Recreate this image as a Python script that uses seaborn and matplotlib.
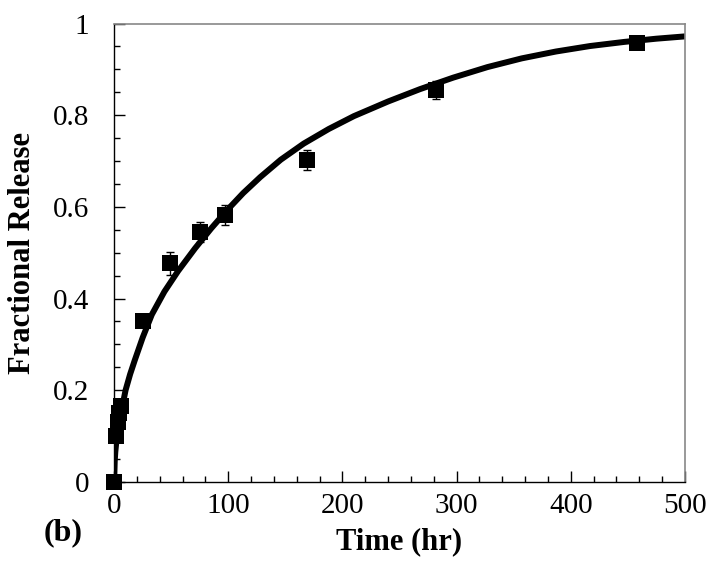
import matplotlib
matplotlib.use("Agg")
import matplotlib.pyplot as plt
import seaborn as sns
import pandas as pd
from matplotlib.ticker import MultipleLocator

time_hr = [0, 1.5, 3, 4.5, 6, 25, 48.6, 75, 97, 169, 282, 458]
frac_release = [0.0, 0.10, 0.13, 0.15, 0.165, 0.351, 0.477, 0.545, 0.583, 0.703, 0.855, 0.957]
frac_err = [0.005, 0.01, 0.01, 0.01, 0.01, 0.012, 0.025, 0.022, 0.022, 0.022, 0.02, 0.01]

# Model curve
curve_t = [0, 0.5, 1, 2, 3, 4.5, 6, 8, 10, 14, 18, 25, 33, 44, 56, 71, 85, 99, 113, 128, 146, 166, 188, 210, 240, 268, 297, 327, 357, 387, 417, 447, 475, 500]
curve_f = [0, 0.045, 0.065, 0.09, 0.11, 0.13, 0.15, 0.175, 0.2, 0.235, 0.265, 0.315, 0.365, 0.415, 0.46, 0.51, 0.553, 0.593, 0.630, 0.665, 0.703, 0.738, 0.770, 0.798, 0.830, 0.857, 0.882, 0.905, 0.924, 0.939, 0.951, 0.960, 0.967, 0.972]

y_ticks = [0, 0.2, 0.4, 0.6, 0.8, 1]
y_ticklabels = ["0", "0.2", "0.4", "0.6", "0.8", "1"]
x_ticks = [0, 100, 200, 300, 400, 500]
x_ticklabels = ["0", "100", "200", "300", "400", "500"]

sns.set_style("ticks")
plt.rcParams["font.family"] = ["Liberation Serif", "DejaVu Serif"]
plt.rcParams["text.color"] = "black"
plt.rcParams["axes.labelcolor"] = "black"
plt.rcParams["xtick.color"] = "black"
plt.rcParams["ytick.color"] = "black"

fig = plt.figure(figsize=(7.09, 5.61), dpi=100)
ax = fig.add_axes([0.161, 0.141, 0.805, 0.817])

curve_df = pd.DataFrame({"t": curve_t, "f": curve_f})
pts_df = pd.DataFrame({"t": time_hr, "f": frac_release, "e": frac_err})

sns.lineplot(data=curve_df, x="t", y="f", ax=ax, color="black", linewidth=4.3,
             estimator=None, sort=False, zorder=2)
ax.errorbar(pts_df["t"], pts_df["f"], yerr=pts_df["e"], fmt="none",
            ecolor="black", elinewidth=1, capsize=3, capthick=1, zorder=3,
            clip_on=False)
sns.scatterplot(data=pts_df, x="t", y="f", ax=ax, marker="s", s=130,
                color="black", edgecolor="black", linewidth=0, zorder=4)
for coll in ax.collections:
    coll.set_clip_on(False)

ax.set_xlim(0, 500)
ax.set_ylim(0, 1)
ax.set_xticks(x_ticks)
ax.set_xticklabels(x_ticklabels)
ax.set_yticks(y_ticks)
ax.set_yticklabels(y_ticklabels)
ax.xaxis.set_minor_locator(MultipleLocator(20))
ax.yaxis.set_minor_locator(MultipleLocator(0.05))
ax.tick_params(axis="both", which="major", direction="in", length=8, width=1,
               labelsize=21, color="black", labelcolor="black")
ax.tick_params(axis="x", which="major", pad=8)
ax.tick_params(axis="y", which="major", pad=18)
ax.tick_params(axis="both", which="minor", direction="in", length=4, width=1, color="black")
ax.tick_params(top=False, right=False, which="both")

for side in ["left", "bottom"]:
    ax.spines[side].set_color("black")
    ax.spines[side].set_linewidth(1)
for side in ["top", "right"]:
    ax.spines[side].set_visible(True)
    ax.spines[side].set_color("#888888")
    ax.spines[side].set_linewidth(1.2)

ax.set_xlabel("Time (hr)", fontsize=22, fontweight="bold", labelpad=6, color="black")
ax.set_ylabel("Fractional Release", fontsize=22, fontweight="bold", labelpad=11, color="black")
fig.text(0.061, 0.05, "(b)", fontsize=23, fontweight="bold", ha="left", va="center", color="black")

fig.savefig("out.png", dpi=100)
